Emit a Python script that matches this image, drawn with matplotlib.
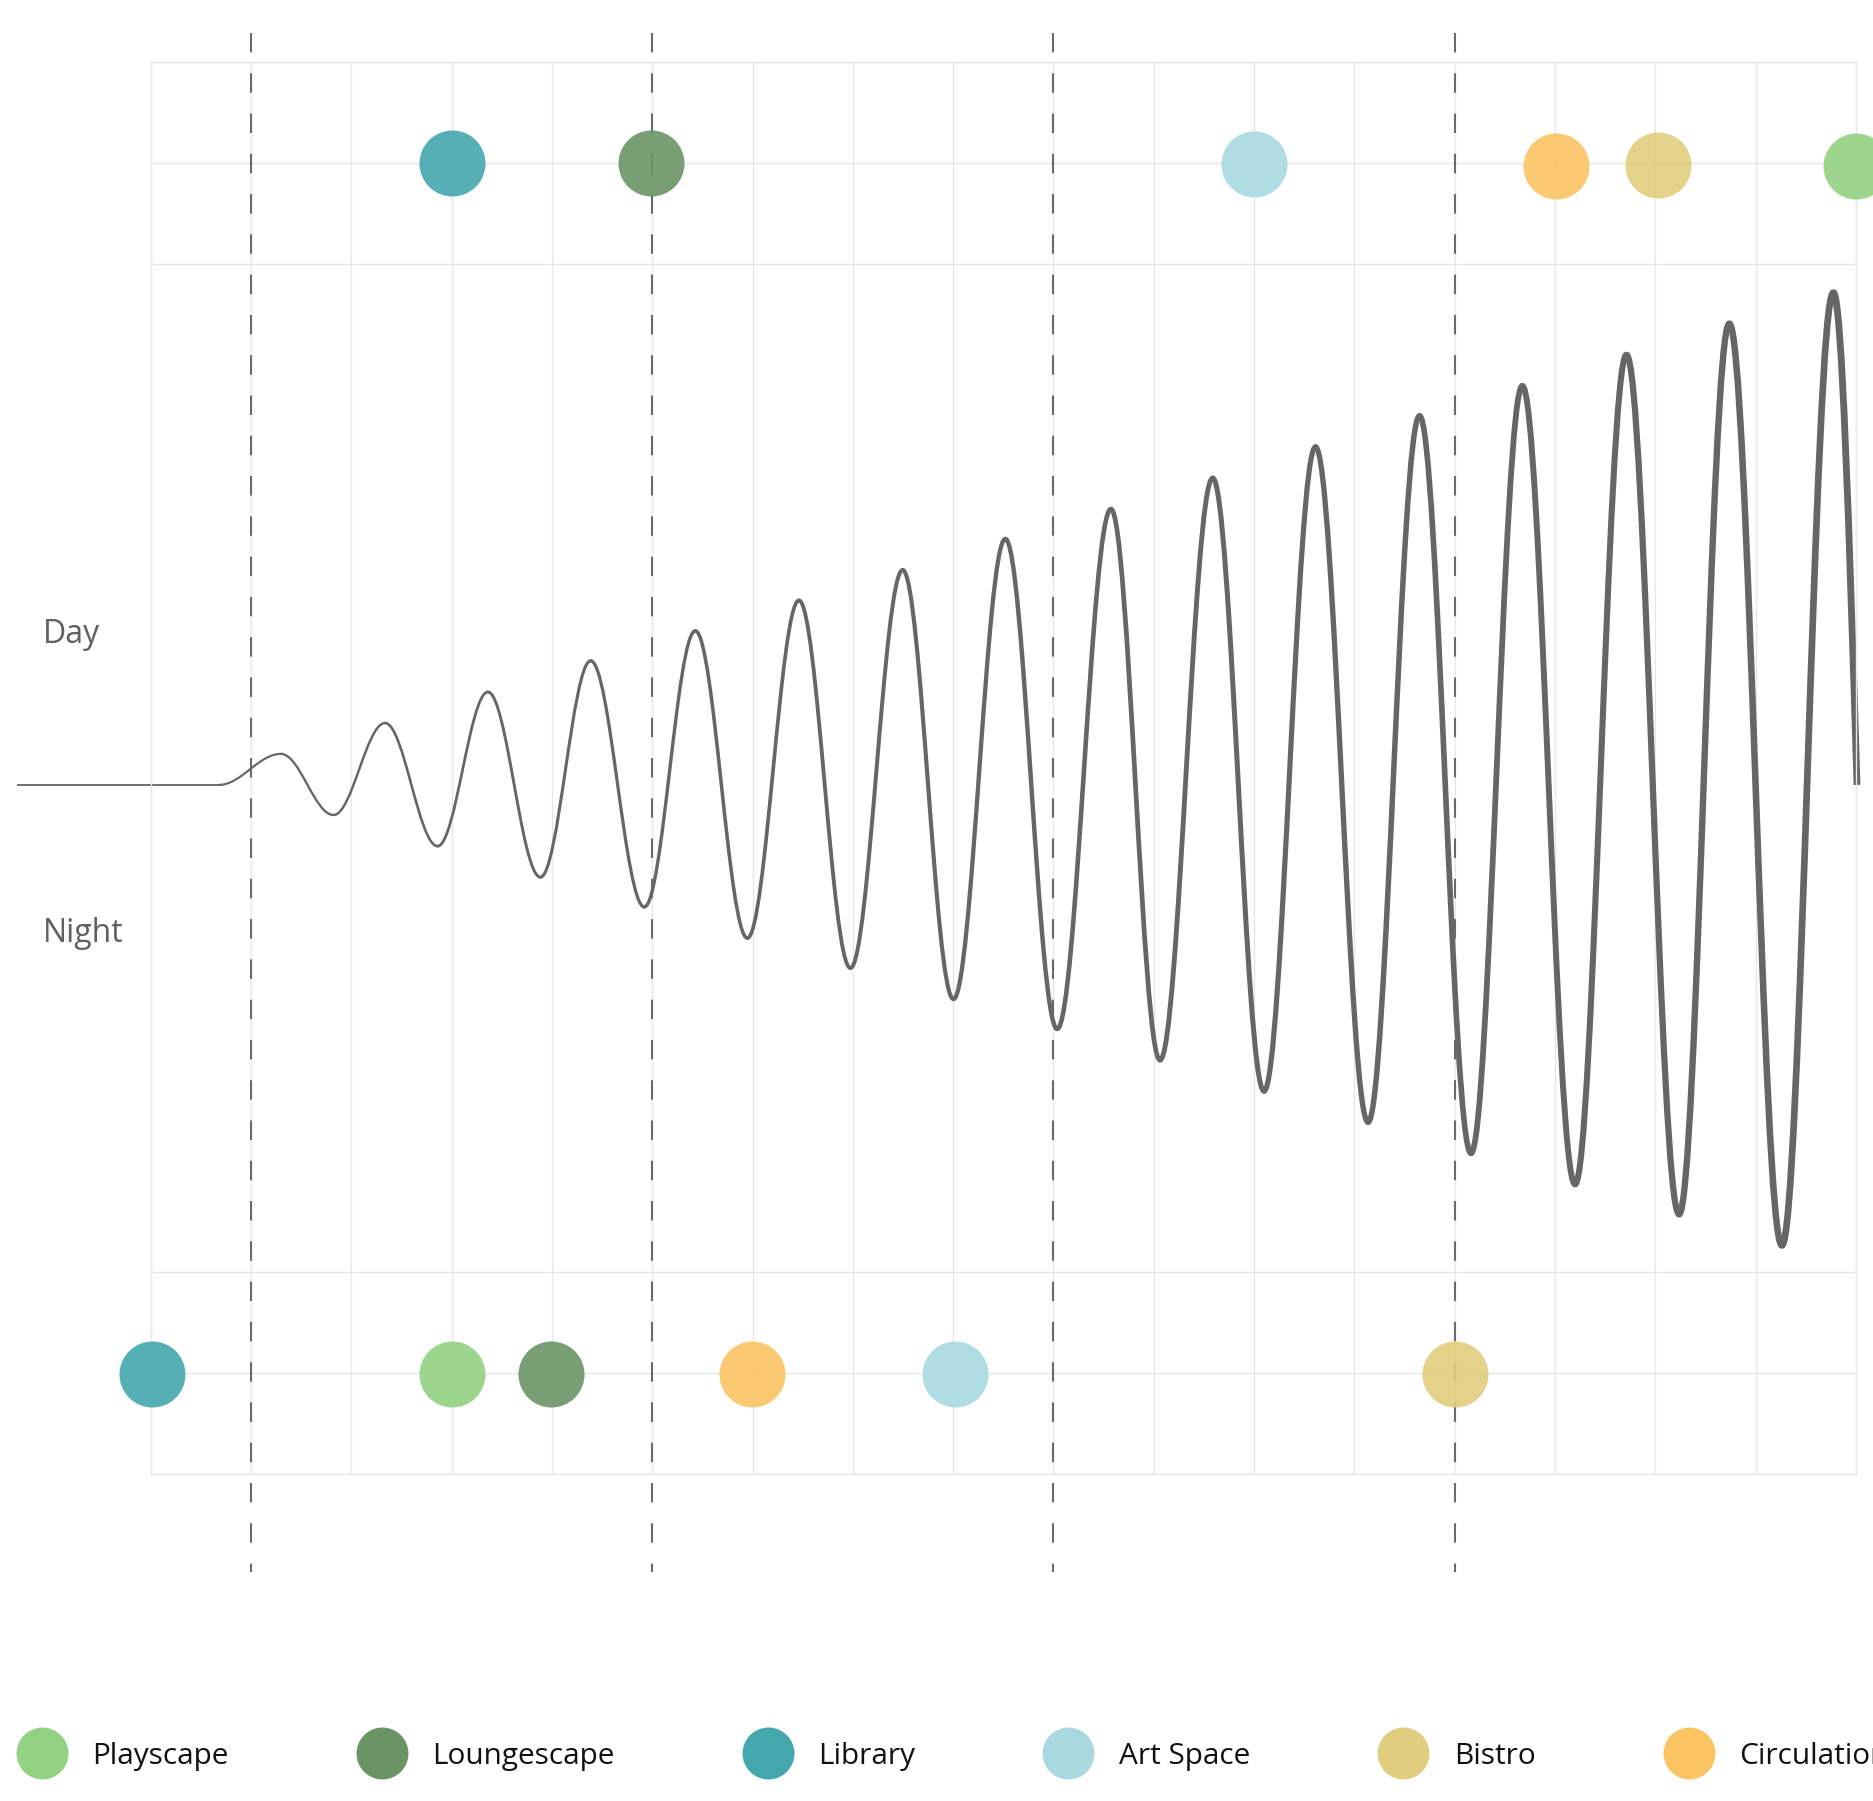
import numpy as np
import matplotlib.pyplot as plt
from matplotlib.path import Path
from matplotlib.patches import PathPatch
from matplotlib.lines import Line2D

plt.rcParams['font.family'] = ['Open Sans', 'DejaVu Sans']
plt.rcParams['lines.scale_dashes'] = False

# spaces and their colours
spaces = ['Playscape', 'Loungescape', 'Library', 'Art Space', 'Bistro', 'Circulation']
space_colors = ['#93d183', '#6a9466', '#45a7ae', '#a8d9e0', '#e1cd7e', '#fac462']

# day row (top)
day_spaces = ['Library', 'Loungescape', 'Art Space', 'Circulation', 'Bistro', 'Playscape']
day_x = [3.0, 4.99, 11.0, 14.01, 15.03, 17.0]
day_y = [13.0, 13.0, 12.99, 12.97, 12.975, 12.97]

# night row (bottom)
night_spaces = ['Library', 'Playscape', 'Loungescape', 'Circulation', 'Art Space', 'Bistro']
night_x = [0.01, 3.0, 3.99, 5.99, 8.02, 13.0]
night_y = [0.99, 0.99, 0.99, 0.99, 0.99, 0.99]

# day / night wave
wave_base = 6.83
wave_start = -1.335
wave_onset = 0.68
wave_end = 17.01
peak_x = [1.299, 2.337, 3.362, 4.387, 5.43, 6.463, 7.497, 8.52, 9.573, 10.587,
          11.612, 12.649, 13.674, 14.712, 15.737, 16.774]
peak_y = [7.138, 7.444, 7.752, 8.061, 8.358, 8.66, 8.962, 9.27, 9.566, 9.874,
          10.183, 10.491, 10.787, 11.096, 11.404, 11.712]
trough_x = [1.824, 2.861, 3.886, 4.922, 5.949, 6.976, 8.003, 9.037, 10.062, 11.099,
            12.136, 13.162, 14.199, 15.236, 16.261]
trough_y = [6.532, 6.223, 5.915, 5.62, 5.311, 5.014, 4.706, 4.41, 4.101, 3.793,
            3.485, 3.177, 2.869, 2.572, 2.264]

# phase markers
phase_x = [1, 5, 9, 13]

label_x = -1.07
day_label_y = 8.325
night_label_y = 5.36

color_of = dict(zip(spaces, space_colors))

fig = plt.figure(figsize=(18.74, 18.01), dpi=100)
ax = fig.add_axes([150.6 / 1874, 327.5 / 1801, 1705.4 / 1874, 1411.4 / 1801])
ax.set_xlim(0, 17)
ax.set_ylim(0, 14)

ax.set_xticks(range(18))
ax.set_yticks([0, 1, 2, 12, 13, 14])
ax.tick_params(length=0, labelbottom=False, labelleft=False)
ax.grid(True, color='#e6e6e6', linewidth=1.0)
ax.set_axisbelow(True)
for s in ax.spines.values():
    s.set_color('#e6e6e6')
    s.set_linewidth(1.0)

# dashed phase lines
ax.vlines(phase_x, 14.29, -0.98, colors='#6a6a6a', linewidth=1.5,
          linestyles=[(0, (14.0, 15.0))], clip_on=False, zorder=2)


def bez(p0, p3, k=0.363):
    dx = p3[0] - p0[0]
    return [p0, (p0[0] + k * dx, p0[1]), (p3[0] - k * dx, p3[1]), p3]


def width_at(x):
    return 1.35 + 0.21 * max(x, 0)


codes = [Path.MOVETO, Path.CURVE4, Path.CURVE4, Path.CURVE4]

# flat part
ax.plot([wave_start, wave_onset], [wave_base, wave_base], color='#666666',
        lw=1.3, solid_capstyle='butt', clip_on=False, zorder=2.5)

knots = [(wave_onset, wave_base)]
for i in range(len(peak_x)):
    knots.append((peak_x[i], peak_y[i]))
    if i < len(trough_x):
        knots.append((trough_x[i], trough_y[i]))

for a, b in zip(knots[:-1], knots[1:]):
    verts = bez(a, b)
    ax.add_patch(PathPatch(Path(verts, codes), fill=False, edgecolor='#666666',
                           lw=width_at((a[0] + b[0]) / 2), capstyle='round',
                           clip_on=False, zorder=2.5))

# last half swing, cut at the zero crossing
p0 = np.array(knots[-1])
virt = (2 * wave_end - p0[0], 2 * wave_base - p0[1])
P = np.array(bez(tuple(p0), virt))
q1 = (P[0] + P[1]) / 2
q2 = (P[0] + 2 * P[1] + P[2]) / 4
q3 = (P[0] + 3 * P[1] + 3 * P[2] + P[3]) / 8
ax.add_patch(PathPatch(Path([P[0], q1, q2, q3], codes), fill=False, edgecolor='#666666',
                       lw=width_at(wave_end), capstyle='butt',
                       clip_on=False, zorder=2.5))

# dots
for name, x, y in zip(day_spaces, day_x, day_y):
    ax.scatter(x, y, s=2260, color=color_of[name], alpha=0.9, linewidths=0,
               clip_on=False, zorder=3)
for name, x, y in zip(night_spaces, night_x, night_y):
    ax.scatter(x, y, s=2260, color=color_of[name], alpha=0.9, linewidths=0,
               clip_on=False, zorder=3)

ax.text(label_x, day_label_y, 'Day', fontsize=23, color='#606060',
        ha='left', va='center', clip_on=False)
ax.text(label_x, night_label_y, 'Night', fontsize=23, color='#606060',
        ha='left', va='center', clip_on=False)

handles = [Line2D([], [], ls='none', marker='o', markersize=37.4,
                  markerfacecolor=c, markeredgewidth=0) for c in space_colors]
leg = fig.legend(handles, spaces, loc='center left', bbox_to_anchor=(16 / 1874, 45 / 1801),
                 ncol=6, frameon=False, fontsize=21.4, handlelength=1.74,
                 handletextpad=0.83, columnspacing=4.28, borderpad=0, borderaxespad=0)
for t in leg.get_texts():
    t.set_color('#111111')

fig.savefig('out.png', dpi=100)
